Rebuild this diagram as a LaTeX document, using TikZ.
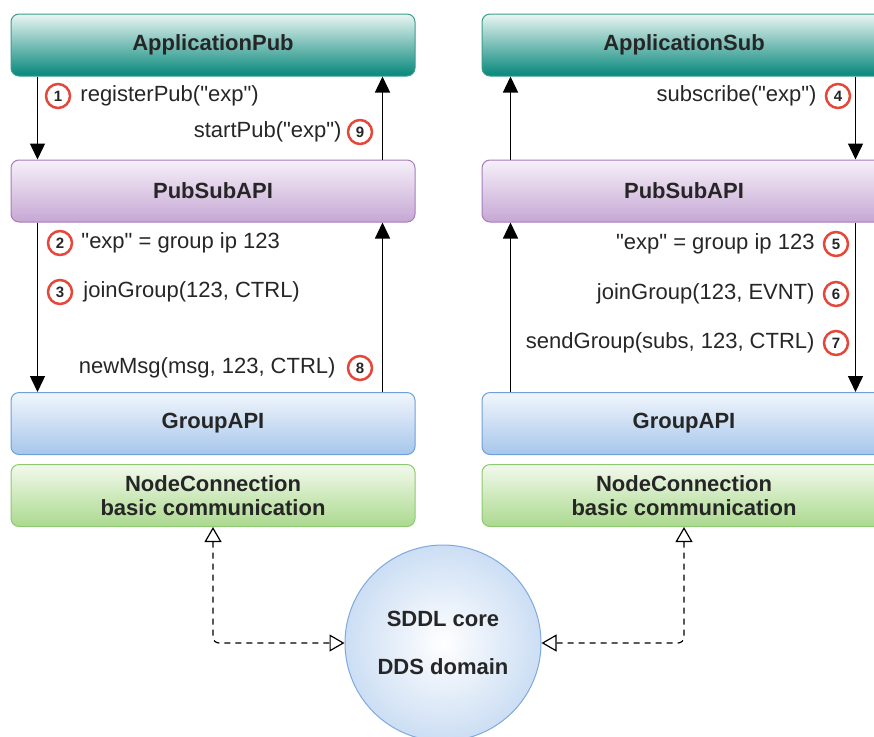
\documentclass[tikz,border=0pt]{standalone}
\usepackage{fontspec}
\setmainfont{Liberation Sans}[Ligatures=TeXOff]
\usetikzlibrary{positioning, arrows.meta, shadings}
\definecolor{tealline}{HTML}{3A9E8C}
\definecolor{tealtop}{HTML}{EAF5F2}
\definecolor{tealbot}{HTML}{05877A}
\definecolor{plumline}{HTML}{A67DBA}
\definecolor{plumtop}{HTML}{F6F0F9}
\definecolor{plumbot}{HTML}{C6A7D4}
\definecolor{skyline}{HTML}{6E9FDA}
\definecolor{skytop}{HTML}{F1F6FC}
\definecolor{skybot}{HTML}{A7C6EB}
\definecolor{leafline}{HTML}{8EC872}
\definecolor{leaftop}{HTML}{F2F9EC}
\definecolor{leafbot}{HTML}{ABD98E}
\definecolor{coreline}{HTML}{7EA9DE}
\definecolor{coreout}{HTML}{CCDEF4}
\definecolor{badgered}{HTML}{E5483A}

\begin{document}
\begin{tikzpicture}[x=1pt, y=-1pt,
    layer/.style={draw, rounded corners=8pt, line width=1pt, minimum width=404pt, minimum height=62pt,
        align=center, text=black!85, font=\fontsize{22}{24}\selectfont\bfseries},
    call/.style={inner sep=0pt, text=black!85, font=\fontsize{22}{24}\selectfont},
    flow/.style={-{Triangle[width=15pt,length=16pt]}, line width=1.4pt},
    link/.style={{Triangle[open,width=17pt,length=15pt]}-{Triangle[open,width=17pt,length=15pt]},
        dash pattern=on 6pt off 5pt, line width=1.2pt, rounded corners=6pt}]
\useasboundingbox (0,0) rectangle (874,736);
\clip (0,0) rectangle (874,736);

\begin{scope}[every node/.style={layer}]
    \node[draw=tealline, top color=tealtop, bottom color=tealbot] (pub) at (213,45) {ApplicationPub};
    \node[draw=tealline, top color=tealtop, bottom color=tealbot] (sub) at (684,45) {ApplicationSub};
    \node[draw=plumline, top color=plumtop, bottom color=plumbot] (ps1) at (213,191) {PubSubAPI};
    \node[draw=plumline, top color=plumtop, bottom color=plumbot] (ps2) at (684,191) {PubSubAPI};
    \node[draw=skyline, top color=skytop, bottom color=skybot] (grp1) at (213,423.5) {GroupAPI};
    \node[draw=skyline, top color=skytop, bottom color=skybot] (grp2) at (684,423.5) {GroupAPI};
    \node[draw=leafline, top color=leaftop, bottom color=leafbot] (nc1) at (213,495.5) {NodeConnection\\basic communication};
    \node[draw=leafline, top color=leaftop, bottom color=leafbot] (nc2) at (684,495.5) {NodeConnection\\basic communication};
\end{scope}

\node[circle, draw=coreline, line width=1pt, inner color=white, outer color=coreout, minimum size=196pt,
    align=center, text=black!85, font=\fontsize{22}{24}\selectfont\bfseries] (core) at (443,643)
    {SDDL core\\[24pt]DDS domain};

\draw[flow] ([xshift=27pt]pub.south west) -- ([xshift=27pt]ps1.north west);
\draw[flow] ([xshift=372pt]ps1.north west) -- ([xshift=372pt]pub.south west);
\draw[flow] ([xshift=374pt]sub.south west) -- ([xshift=374pt]ps2.north west);
\draw[flow] ([xshift=29pt]ps2.north west) -- ([xshift=29pt]sub.south west);
\draw[flow] ([xshift=27pt]ps1.south west) -- ([xshift=27pt]grp1.north west);
\draw[flow] ([xshift=372pt]grp1.north west) -- ([xshift=372pt]ps1.south west);
\draw[flow] ([xshift=374pt]ps2.south west) -- ([xshift=374pt]grp2.north west);
\draw[flow] ([xshift=29pt]grp2.north west) -- ([xshift=29pt]ps2.south west);

\draw[link] (nc1.south) |- (core.west);
\draw[link] (nc2.south) |- (core.east);

\begin{scope}[every node/.style={circle, draw=badgered, line width=2.5pt, fill=white, minimum size=24pt,
    inner sep=0pt, text=black!85, font=\fontsize{15}{15}\selectfont\bfseries}]
    \node (b1) at (58,96) {1};
    \node (b2) at (60,243) {2};
    \node (b3) at (60,292) {3};
    \node (b4) at (838,96) {4};
    \node (b5) at (836,244) {5};
    \node (b6) at (836,294) {6};
    \node (b7) at (836,343) {7};
    \node (b8) at (360,368) {8};
    \node (b9) at (360,132) {9};
\end{scope}

\node[call, right=9pt of b1] (t1) {registerPub("exp")};
\node[call, right=8pt of b2] (t2) {"exp" = group ip 123};
\node[call, right=10pt of b3] (t3) {joinGroup(123, CTRL)};
\node[call, left=8pt of b4] (t4) {subscribe("exp")};
\node[call, left=8pt of b5] (t5) {"exp" = group ip 123};
\node[call, left=8pt of b6] (t6) {joinGroup(123, EVNT)};
\node[call, left=8pt of b7] (t7) {sendGroup(subs, 123, CTRL)};
\node[call, left=11pt of b8] (t8) {newMsg(msg, 123, CTRL)};
\node[call, left=5pt of b9] (t9) {startPub("exp")};
\end{tikzpicture}
\end{document}
